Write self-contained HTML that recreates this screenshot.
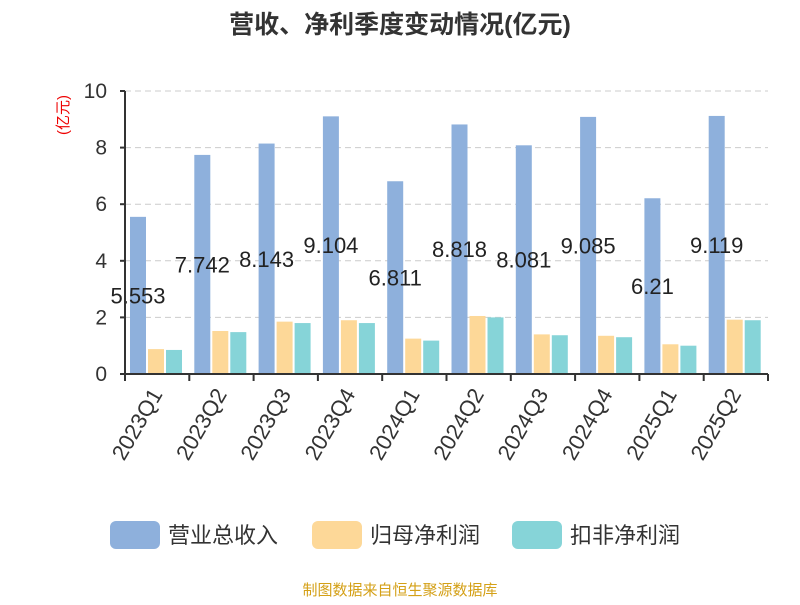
<!DOCTYPE html>
<html><head><meta charset="utf-8"><style>
body{margin:0;background:#fff;font-family:"Liberation Sans","Noto Sans CJK SC",sans-serif}
</style></head><body>
<svg id="c" width="800" height="600" xmlns="http://www.w3.org/2000/svg" style="font-family:'Liberation Sans','Noto Sans CJK SC',sans-serif">
<text x="400" y="33" text-anchor="middle" font-size="25" font-weight="bold" fill="#333">营收、净利季度变动情况(亿元)</text>
<text transform="translate(68,115) rotate(-90)" text-anchor="middle" font-size="15" fill="#e00">(亿元)</text>
<g id="grid"></g><g id="bars"></g><g id="axes"></g>
<g>
<rect x="110" y="521" width="50" height="28" rx="6" fill="#8eb0dc"/>
<text x="168" y="543" font-size="22" fill="#333">营业总收入</text>
<rect x="312" y="521" width="50" height="28" rx="6" fill="#fdd898"/>
<text x="370" y="543" font-size="22" fill="#333">归母净利润</text>
<rect x="512" y="521" width="50" height="28" rx="6" fill="#86d4d8"/>
<text x="570" y="543" font-size="22" fill="#333">扣非净利润</text>
</g>
<text x="400" y="595" text-anchor="middle" font-size="15" fill="#d4a017">制图数据来自恒生聚源数据库</text>
</svg>
<script>
const categories=["2023Q1","2023Q2","2023Q3","2023Q4","2024Q1","2024Q2","2024Q3","2024Q4","2025Q1","2025Q2"];
const revenue=[5.553,7.742,8.143,9.104,6.811,8.818,8.081,9.085,6.21,9.119];
const netProfit=[0.88,1.52,1.85,1.90,1.25,2.05,1.40,1.35,1.05,1.92];
const deductedProfit=[0.85,1.48,1.80,1.80,1.18,2.00,1.37,1.30,1.00,1.90];
const yTicks=[0,2,4,6,8,10];
const NS="http://www.w3.org/2000/svg";
const X0=125,X1=768,Y0=374,Y1=91,YMAX=10;
const band=(X1-X0)/categories.length;
const y=v=>Y0-(v/YMAX)*(Y0-Y1);
const xb=(i,k)=>X0+i*band+5+k*18;
function mk(t,a,p){const e=document.createElementNS(NS,t);for(const k in a)e.setAttribute(k,a[k]);p.appendChild(e);return e;}
const grid=document.getElementById('grid'),bars=document.getElementById('bars'),axes=document.getElementById('axes');
yTicks.forEach(t=>{
 if(t>0){const l=mk('line',{x1:X0,x2:X1,y1:y(t),y2:y(t),stroke:'#ccc','stroke-dasharray':'6,4'},grid);
 
 }
 const tx=mk('text',{x:107,y:y(t)+7,'text-anchor':'end','font-size':21,fill:'#333'},axes);tx.textContent=t;
 
 
 const tk=mk('line',{x1:X0-5,x2:X0,y1:y(t),y2:y(t),stroke:'#333','stroke-width':2},axes);
 
 
});
const series=[[revenue,'#8eb0dc','revenue'],[netProfit,'#fdd898','net-profit'],[deductedProfit,'#86d4d8','deducted-profit']];
categories.forEach((c,i)=>{
 series.forEach((s,k)=>{
  const r=mk('rect',{x:xb(i,k),y:y(s[0][i]),width:16,height:Y0-y(s[0][i]),fill:s[1]},bars);
  
  
 });
 const lb=mk('text',{x:xb(i,0)+8,y:(y(revenue[i])+Y0)/2+8,'text-anchor':'middle','font-size':22,fill:'#222'},bars);
 lb.textContent=String(revenue[i]);
 
 
 const cx=X0+(i+0.5)*band;
 const xl=mk('text',{transform:`translate(${cx+6},${Y0+20}) rotate(-60)`,'text-anchor':'end','font-size':22,fill:'#333'},axes);
 xl.textContent=c;
 
 
});
for(let i=0;i<=categories.length;i++){
 const t=mk('line',{x1:X0+i*band,x2:X0+i*band,y1:Y0,y2:Y0+7,stroke:'#333','stroke-width':2},axes);
 
 
}
const xa=mk('line',{x1:X0,x2:X1,y1:Y0,y2:Y0,stroke:'#333','stroke-width':2},axes);


const ya=mk('line',{x1:X0,x2:X0,y1:Y1,y2:Y0,stroke:'#333','stroke-width':2},axes);


</script>
</body></html>
